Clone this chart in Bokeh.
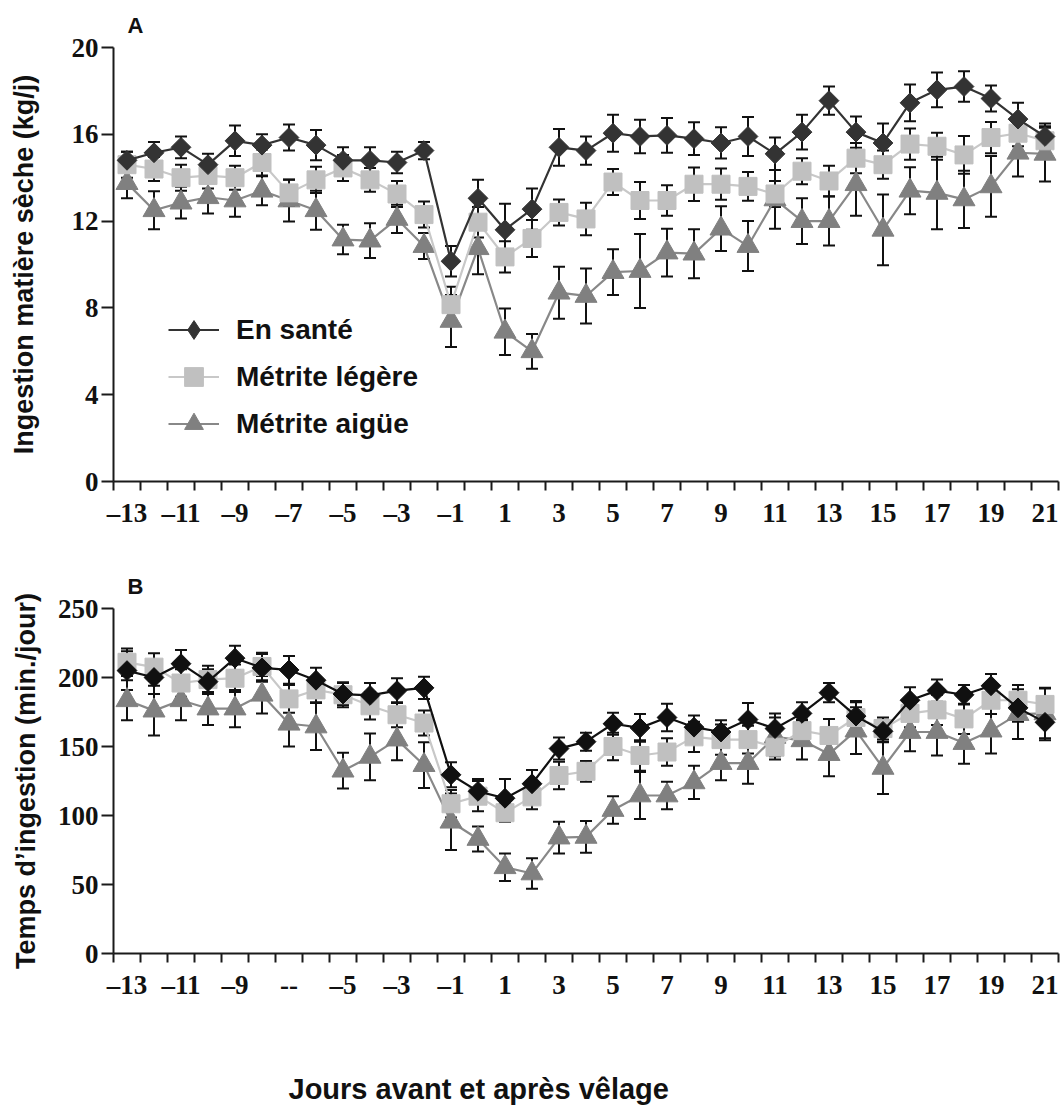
from bokeh.plotting import figure
from bokeh.models import (ColumnDataSource, FixedTicker, Whisker, TeeHead, Legend,
                          LegendItem, Title, Range1d)
from bokeh.layouts import column
from bokeh.embed import file_html
from bokeh.resources import INLINE

# ---------------- data ----------------
days = list(range(-13, 22))
label_days = list(range(-13, 22, 2))
series_names = ["En santé", "Métrite légère", "Métrite aigüe"]

# Panel A : Ingestion matière sèche (kg/j)
a_sante = [14.8, 15.15, 15.4, 14.6, 15.7, 15.5, 15.85, 15.5, 14.8, 14.8, 14.7, 15.25,
           10.15, 13.05, 11.6, 12.55, 15.4, 15.25, 16.05, 15.9, 15.95, 15.8, 15.6, 15.9,
           15.1, 16.1, 17.55, 16.1, 15.6, 17.45, 18.05, 18.2, 17.65, 16.7, 15.9]
a_sante_err = [0.4, 0.5, 0.5, 0.5, 0.7, 0.5, 0.6, 0.7, 0.6, 0.6, 0.5, 0.4,
               0.7, 0.85, 1.2, 0.95, 0.85, 0.65, 0.85, 0.77, 0.8, 0.75, 0.72, 0.9,
               0.75, 0.8, 0.65, 0.72, 0.9, 0.85, 0.8, 0.7, 0.6, 0.75, 0.6]
a_legere = [14.6, 14.4, 14.0, 14.1, 14.0, 14.7, 13.3, 13.9, 14.45, 13.9, 13.25, 12.3,
            8.15, 11.95, 10.35, 11.2, 12.4, 12.1, 13.8, 12.95, 12.95, 13.7, 13.7, 13.6,
            13.25, 14.3, 13.85, 14.9, 14.6, 15.55, 15.45, 15.05, 15.85, 16.05, 15.7]
a_legere_err = [0.6, 0.55, 0.6, 0.6, 0.55, 0.6, 0.6, 0.6, 0.6, 0.55, 0.6, 0.6,
                0.83, 0.7, 0.72, 0.85, 0.6, 0.75, 0.6, 0.85, 0.7, 0.77, 0.72, 0.66,
                0.6, 0.6, 0.7, 0.7, 0.65, 0.72, 0.62, 0.87, 0.72, 0.6, 0.6]
a_aigue = [13.75, 12.5, 12.85, 13.1, 12.95, 13.4, 12.95, 12.5, 11.15, 11.1, 12.1, 10.85,
           7.4, 10.75, 6.9, 6.0, 8.7, 8.55, 9.65, 9.7, 10.55, 10.5, 11.65, 10.85,
           13.0, 12.0, 12.0, 13.7, 11.6, 13.4, 13.3, 13.0, 13.6, 15.15, 15.1]
a_aigue_err = [0.7, 0.87, 0.73, 0.75, 0.75, 0.67, 0.97, 0.9, 0.68, 0.8, 0.65, 0.6,
               1.2, 1.2, 1.07, 0.8, 1.2, 1.27, 1.05, 1.7, 1.1, 1.13, 1.03, 1.15,
               1.35, 1.05, 1.13, 1.45, 1.63, 1.08, 1.67, 1.32, 1.4, 1.1, 1.27]

# Panel B : Temps d'ingestion (min./jour)
b_sante = [205, 200, 210, 197, 214, 207, 205.5, 198, 188, 187, 190.5, 192.5,
           129.5, 117.5, 112.5, 123, 148.5, 153.5, 166.5, 163.5, 171, 164, 160.5, 169.5,
           163, 174, 189, 172, 161, 183.5, 190.5, 187.5, 194, 178, 167.5]
b_sante_err = [14, 12, 10, 9, 9, 10, 10, 9, 8, 9, 9, 8,
               9, 9, 14, 10, 8, 6.5, 8, 10, 10, 8.5, 8.5, 12,
               11, 8, 7, 10, 8, 9.5, 8, 7, 8.5, 10, 13]
b_legere = [211, 207.5, 196, 198.5, 199.5, 208, 184.5, 191, 187.5, 179.5, 173, 167,
            108.5, 114, 102, 113.5, 129, 132, 150, 143.5, 146, 157, 155, 155,
            149.5, 161.5, 158, 171, 163, 174, 176.5, 170, 183.5, 183.5, 180.5]
b_legere_err = [10, 10, 10, 10, 10, 10, 10, 9, 9, 10, 9, 9,
                10, 11, 6.5, 9, 10, 7.5, 10, 11, 10, 11, 11, 10,
                9, 8, 12, 12, 8, 10, 11, 11, 10, 11, 12]
b_aigue = [183.5, 176, 183.5, 177.5, 177.5, 187.5, 166.5, 164.5, 132.5, 142.5, 155, 136.5,
           95.5, 83, 62.5, 58, 84, 84.5, 104, 114.5, 114.5, 124, 138, 138,
           157, 154.5, 144.5, 161.5, 134.5, 160.5, 160.5, 152.5, 161.5, 173.5, 174]
b_aigue_err = [14.5, 18, 14.5, 12, 13.5, 13.5, 16.5, 17, 13, 17, 15, 16.5,
               20.5, 9, 10, 11, 11.5, 11.5, 10, 17, 10, 12, 12.5, 15,
               14, 14, 16, 17, 19, 14, 17, 15, 16.5, 18, 18]

a_yticks = [0, 4, 8, 12, 16, 20]
b_yticks = [0, 50, 100, 150, 200, 250]

SANS = "Liberation Sans"
SERIF = "Liberation Serif"
NAN = float("nan")


def tick_text(d):
    return ("\u2013" + str(abs(d))) if d < 0 else str(d)


def make_panel(letter, ylabel, yticks, data, sante_color, label_std, title_std,
               border_top, border_bottom, frame_h, overrides=None, legend=False):
    p = figure(output_backend="svg", toolbar_location=None,
               frame_width=945, frame_height=frame_h,
               min_border_left=113, min_border_right=2,
               min_border_top=border_top, min_border_bottom=border_bottom,
               x_range=Range1d(-13.5, 21.5), y_range=Range1d(yticks[0], yticks[-1]),
               background_fill_color="white", border_fill_color="white")
    p.outline_line_color = None
    p.grid.visible = False

    p.title = Title(text=letter, align="left", offset=14, standoff=title_std,
                    text_font=SANS, text_font_style="bold", text_font_size="22px",
                    text_color="#111111")

    # x axis
    edges = [d - 0.5 for d in days] + [days[-1] + 0.5]
    xa = p.xaxis[0]
    xa.ticker = FixedTicker(ticks=label_days, minor_ticks=edges)
    ov = {d: tick_text(d) for d in label_days}
    if overrides:
        ov.update(overrides)
    xa.major_label_overrides = ov
    xa.major_tick_out = 0
    xa.major_tick_in = 0
    xa.minor_tick_out = 9
    xa.minor_tick_in = 0
    xa.minor_tick_line_width = 2
    xa.minor_tick_line_color = "#1a1a1a"
    xa.major_label_standoff = 7

    ya = p.yaxis[0]
    ya.ticker = FixedTicker(ticks=yticks)
    ya.major_tick_out = 12
    ya.major_tick_in = 0
    ya.major_tick_line_width = 2
    ya.major_tick_line_color = "#1a1a1a"
    ya.minor_tick_out = 0
    ya.minor_tick_in = 0
    ya.major_label_standoff = 3
    ya.axis_label = ylabel
    ya.axis_label_standoff = label_std
    ya.axis_label_text_font = SANS
    ya.axis_label_text_font_style = "bold"
    ya.axis_label_text_font_size = "27px"
    ya.axis_label_text_color = "#111111"

    for ax in (xa, ya):
        ax.axis_line_width = 2
        ax.axis_line_color = "#1a1a1a"
        ax.major_label_text_font = SERIF
        ax.major_label_text_font_style = "bold"
        ax.major_label_text_font_size = "27px"
        ax.major_label_text_color = "#111111"

    colors = [(sante_color, sante_color), ("#c0c0c0", "#c8c8c8"), ("#808080", "#888888")]
    markers = ["square", "square", "triangle"]
    legend_markers = ["diamond", "square", "triangle"]
    angles = [0.785398, 0.0, 0.0]
    sizes = [14, 18, 22]
    items = {}
    # draw aigue first, sante last
    for idx in [2, 1, 0]:
        vals, errs = data[idx]
        src = ColumnDataSource(dict(x=days, y=vals,
                                    lo=[v - e for v, e in zip(vals, errs)],
                                    hi=[v + e for v, e in zip(vals, errs)]))
        w = Whisker(base="x", upper="hi", lower="lo", source=src,
                    line_color="#111111", line_width=2,
                    upper_head=TeeHead(size=12, line_color="#111111", line_width=2),
                    lower_head=TeeHead(size=12, line_color="#111111", line_width=2))
        p.add_layout(w)
        mcol, lcol = colors[idx]
        ln = p.line("x", "y", source=src, line_color=lcol, line_width=2.2)
        p.scatter("x", "y", source=src, marker=markers[idx], size=sizes[idx],
                  angle=angles[idx], fill_color=mcol, line_color=mcol)
        # legend-only glyph (a NaN placeholder, never drawn in the plot) so that the
        # legend shows the right marker shape
        dummy = p.scatter(x=[NAN], y=[NAN], marker=legend_markers[idx], size=sizes[idx],
                          fill_color=mcol, line_color=mcol)
        items[idx] = [ln, dummy]

    if legend:
        leg = Legend(items=[LegendItem(label=series_names[i], renderers=items[i]) for i in [0, 1, 2]],
                     location=(55, 34), orientation="vertical",
                     glyph_width=51, glyph_height=47, label_height=47, spacing=0,
                     padding=0, label_standoff=17, margin=0,
                     label_text_font=SANS, label_text_font_style="bold",
                     label_text_font_size="28px", label_text_color="#111111",
                     background_fill_alpha=0, border_line_color=None)
        p.add_layout(leg, "center")
    return p


pA = make_panel("A", "Ingestion matière sèche (kg/j)", a_yticks,
                [(a_sante, a_sante_err), (a_legere, a_legere_err), (a_aigue, a_aigue_err)],
                "#333333", 30, 20, 47, 55, 434, legend=True)

pB = make_panel("B", "Temps d\u2019ingestion (min./jour)", b_yticks,
                [(b_sante, b_sante_err), (b_legere, b_legere_err), (b_aigue, b_aigue_err)],
                "#101010", 14, 19, 72, 140, 345, overrides={-7: "--"})
pB.add_layout(Title(text="Jours avant et après vêlage", align="left", offset=175, standoff=137,
                    text_font=SANS, text_font_style="bold", text_font_size="29px",
                    text_color="#111111"), "below")

layout = column(pA, pB, spacing=0)
open("out.html", "w").write(file_html(layout, INLINE))
